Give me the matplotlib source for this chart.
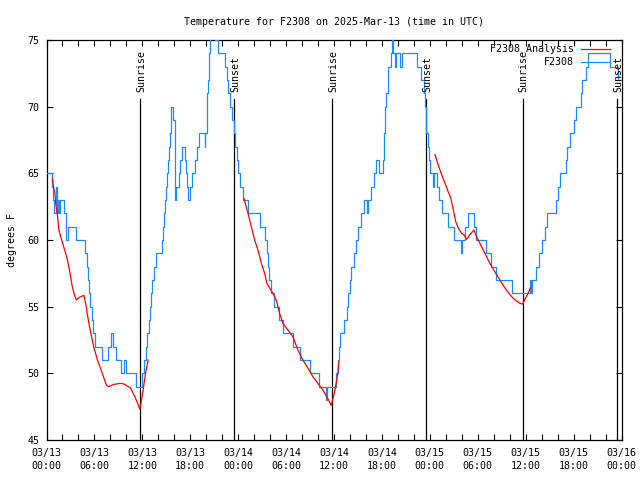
import numpy as np
import matplotlib
matplotlib.use("Agg")
import matplotlib.pyplot as plt
from matplotlib.ticker import MultipleLocator

# ---- data: hours since 03/13 00:00 UTC ----
# observed temperature (step changes)
obs_hours = [0.0, 0.73, 0.85, 1.0, 1.15, 1.3, 1.45, 1.6, 1.7, 2.2, 2.5, 2.65, 3.7, 4.8,
             5.05, 5.2, 5.35, 5.5, 5.65, 5.85, 6.1, 7.0, 7.7, 8.05, 8.3, 8.75, 9.3, 9.75,
             9.95, 11.15, 12.0, 12.2, 12.4, 12.6, 12.8, 12.95, 13.1, 13.25, 13.45, 13.65,
             14.45, 14.55, 14.7, 14.85, 15.0, 15.1, 15.2, 15.35, 15.45, 15.55, 15.65, 15.9,
             16.1, 16.2, 16.6, 16.75, 16.95, 17.4, 17.5, 17.65, 17.75, 18.0, 18.2, 18.55,
             18.9, 19.15, 19.8, 19.9, 20.05, 20.15, 20.25, 20.35, 20.5, 21.15, 21.45, 22.35,
             22.55, 22.75, 22.95, 23.25, 23.45, 23.65, 23.85, 24.0, 24.25, 24.6, 25.2, 26.7,
             27.4, 27.55, 27.7, 27.9, 28.1, 28.5, 29.1, 29.65, 30.85, 31.7, 32.95, 34.1,
             35.0, 35.15, 36.2, 36.45, 36.6, 36.75, 37.2, 37.6, 37.8, 38.0, 38.15, 38.55,
             38.75, 38.95, 39.4, 39.7, 40.1, 40.2, 40.65, 41.05, 41.25, 41.65, 42.15, 42.3,
             42.4, 42.5, 42.7, 43.15, 43.25, 43.45, 43.65, 43.75, 44.25, 44.55, 46.35, 46.9,
             47.25, 47.4, 47.55, 47.8, 47.95, 48.05, 48.35, 48.55, 48.9, 49.15, 49.5, 50.3,
             51.0, 51.95, 52.05, 52.35, 52.75, 53.5, 53.8, 55.0, 55.7, 56.3, 58.35, 60.5,
             60.7, 60.85, 61.25, 61.65, 62.1, 62.4, 62.7, 63.75, 64.1, 64.25, 65.0, 65.2,
             65.5, 66.05, 66.25, 66.95, 67.1, 67.5, 67.85, 70.55, 71.6, 71.9]
obs_temps = [65, 64, 63, 62, 64, 62, 63, 62, 63, 62, 60, 61, 60, 59,
             58, 57, 56, 55, 54, 53, 52, 51, 52, 53, 52, 51, 50, 51,
             50, 49, 50, 51, 52, 53, 54, 55, 56, 57, 58, 59,
             60, 61, 62, 63, 64, 65, 66, 67, 68, 69, 70, 69,
             63, 64, 65, 66, 67, 66, 65, 64, 63, 64, 65, 66,
             67, 68, 67, 68, 70, 71, 72, 74, 76, 75, 74, 73,
             72, 71, 70, 69, 68, 67, 66, 65, 64, 63, 62, 61,
             60, 59, 58, 57, 56, 55, 54, 53, 52, 51, 50, 49,
             48, 49, 50, 51, 52, 53, 54, 55, 56, 57, 58, 59,
             60, 61, 62, 63, 62, 63, 64, 65, 66, 65, 66, 68,
             70, 71, 73, 74, 76, 74, 73, 74, 73, 74, 73, 72,
             71, 70, 68, 67, 66, 65, 64, 65, 64, 63, 62, 61,
             60, 59, 60, 61, 62, 61, 60, 59, 58, 57, 56, 57,
             56, 57, 58, 59, 60, 61, 62, 63, 64, 65, 66, 67,
             68, 69, 70, 71, 72, 73, 74, 73, 72, 72]

# analysis (three night-time pieces)
ana1_hours = [0.73, 0.9, 1.05, 1.15, 1.35, 1.55, 1.77, 2.2, 2.52, 2.8, 3.02, 3.23, 3.44,
              3.73, 4.1, 4.5, 4.69, 4.9, 5.1, 5.31, 5.52, 5.73, 5.94, 6.15, 6.35, 6.69,
              6.98, 7.27, 7.52, 7.81, 8.4, 9.27, 9.7, 10.1, 10.52, 11.06, 11.45, 11.69,
              11.9, 12.1, 12.4, 12.73]
ana1_temps = [64.6, 63.9, 63.5, 62.75, 62.0, 60.75, 60.25, 59.4, 58.75, 58.0, 57.25, 56.5,
              56.0, 55.5, 55.7, 55.8, 55.85, 55.25, 54.5, 53.75, 53.1, 52.5, 51.9, 51.5,
              51.05, 50.5, 50.0, 49.5, 49.1, 49.0, 49.17, 49.25, 49.2, 49.05, 48.9, 48.25,
              47.7, 47.3, 48.0, 48.75, 50.0, 51.0]
ana2_hours = [24.73, 25.23, 25.65, 26.06, 26.48, 26.9, 27.31, 27.6, 27.94, 28.35, 28.77,
              29.19, 29.6, 30.23, 30.85, 31.48, 32.1, 32.73, 33.35, 33.98, 34.6, 35.23,
              35.65, 35.94, 36.19, 36.48, 36.6]
ana2_temps = [63.1, 62.0, 61.0, 60.0, 59.25, 58.25, 57.5, 56.75, 56.4, 56.0, 55.5, 54.5,
              53.75, 53.25, 52.75, 51.75, 51.0, 50.4, 49.75, 49.25, 48.75, 48.1, 47.6,
              48.25, 49.0, 50.0, 50.9]
ana3_hours = [48.65, 49.06, 49.48, 49.9, 50.31, 50.65, 50.94, 51.23, 51.56, 51.98, 52.27,
              52.6, 53.02, 53.52, 53.85, 54.27, 54.69, 55.1, 55.52, 56.15, 56.77, 57.4,
              58.02, 58.65, 59.27, 59.6, 59.9, 60.31, 60.6]
ana3_temps = [66.4, 65.6, 64.9, 64.25, 63.6, 63.1, 62.25, 61.4, 60.9, 60.5, 60.4, 60.05,
              60.4, 60.75, 60.25, 59.75, 59.25, 58.75, 58.25, 57.6, 57.0, 56.4, 55.9, 55.5,
              55.25, 55.2, 55.55, 56.0, 56.4]

sunrise_hours = [11.73, 35.72, 59.62]
sunset_hours = [23.48, 47.48, 71.48]

tick_hours = list(range(0, 73, 6))
tick_labels = ["03/13\n00:00", "03/13\n06:00", "03/13\n12:00", "03/13\n18:00",
               "03/14\n00:00", "03/14\n06:00", "03/14\n12:00", "03/14\n18:00",
               "03/15\n00:00", "03/15\n06:00", "03/15\n12:00", "03/15\n18:00",
               "03/16\n00:00"]

# ---- plot ----
plt.rcParams['font.family'] = 'DejaVu Sans Mono'
plt.rcParams['font.size'] = 7.2

blue = '#1a8cff'
red = '#ff0000'

fig = plt.figure(figsize=(6.4, 4.8), dpi=100)
ax = fig.add_axes([46.5 / 640, 40 / 480, 575 / 640, 400 / 480])

ax.plot(obs_hours, obs_temps, color=blue, lw=0.9, drawstyle='steps-post', zorder=3)
for h, t in [(ana1_hours, ana1_temps), (ana2_hours, ana2_temps), (ana3_hours, ana3_temps)]:
    ax.plot(h, t, color=red, lw=0.9, zorder=4)

for h in sunrise_hours:
    ax.plot([h, h], [45, 70.55], color='black', lw=0.9, zorder=2)
    ax.text(h + 0.15, 71.1, "Sunrise", rotation=90, ha='center', va='bottom',
            fontsize=7.2, clip_on=False)
for h in sunset_hours:
    ax.plot([h, h], [45, 70.55], color='black', lw=0.9, zorder=2)
    ax.text(h + 0.15, 71.1, "Sunset", rotation=90, ha='center', va='bottom',
            fontsize=7.2, clip_on=False)

ax.set_xlim(0, 72)
ax.set_ylim(45, 75)
ax.set_xticks(tick_hours)
ax.set_xticklabels(tick_labels, linespacing=1.35)
ax.xaxis.set_minor_locator(MultipleLocator(2))
ax.yaxis.set_major_locator(MultipleLocator(5))
ax.tick_params(which='both', direction='in', top=True, right=True, length=4, width=0.8)
ax.tick_params(axis='x', pad=6)
ax.tick_params(axis='y', pad=5)
for s in ax.spines.values():
    s.set_linewidth(0.9)

ax.set_ylabel("degrees F")
ax.yaxis.set_label_coords(-0.052, 0.5)

fig.text(0.5 * (46.5 + 621.5) / 640, 1 - 22 / 480,
         "Temperature for F2308 on 2025-Mar-13 (time in UTC)",
         ha='center', va='center', fontsize=7.2)

# legend drawn gnuplot-style (right aligned text, sample line after it)
ax.text(0.9174, 0.977, "F2308 Analysis", transform=ax.transAxes, ha='right', va='center')
ax.plot([0.9296, 0.98], [0.977, 0.977], transform=ax.transAxes, color=red, lw=0.9)
ax.text(0.9174, 0.944, "F2308", transform=ax.transAxes, ha='right', va='center')
ax.plot([0.9296, 0.98], [0.944, 0.944], transform=ax.transAxes, color=blue, lw=0.9)

fig.savefig("out.png", dpi=100)
